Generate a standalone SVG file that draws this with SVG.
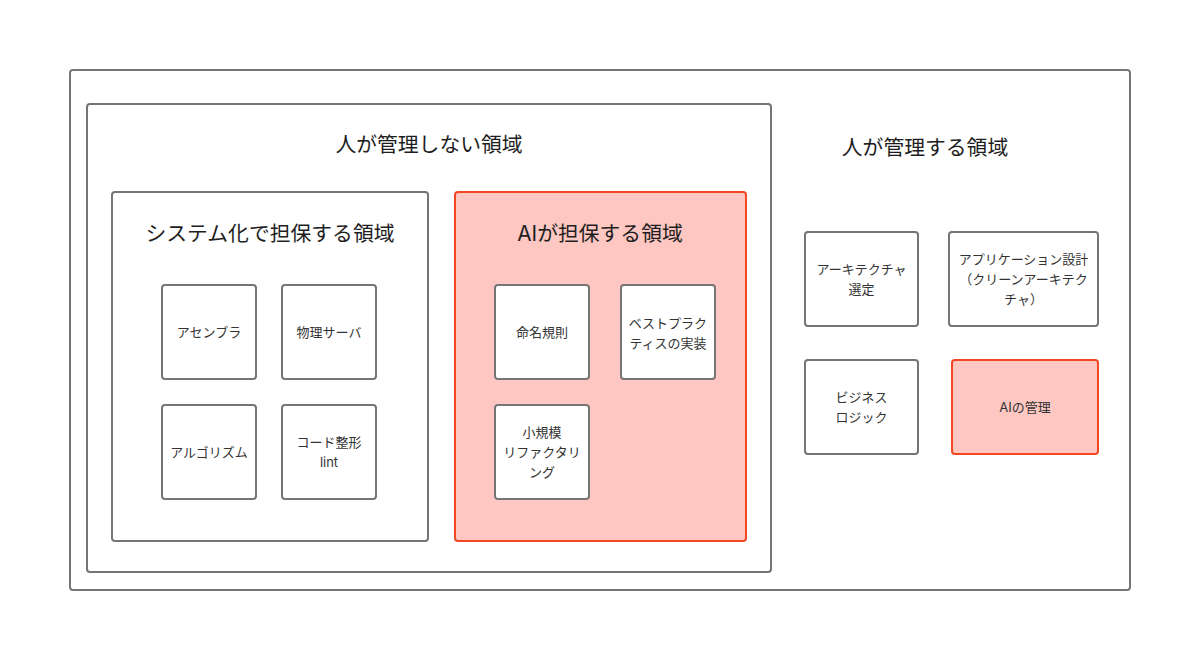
<svg xmlns="http://www.w3.org/2000/svg" width="1200" height="661" viewBox="0 0 1200 661">
<style>
.box{fill:#ffffff;stroke:#757575;stroke-width:2}
.red{fill:#ffc7c2;stroke:#f24822;stroke-width:2}
text{font-family:"Inter","Noto Sans CJK JP",sans-serif;fill:#1e1e1e;text-anchor:middle}
.t{font-size:20.8px}
.n{font-size:13px;fill:#333}
</style>
<rect width="1200" height="661" fill="#ffffff"/>
<g id="outer"><rect class="box" x="70" y="70" width="1060" height="520" rx="3"/></g>
<g id="unmanaged">
<rect class="box" x="87" y="104" width="684" height="468" rx="3"/>
<text class="t" x="429" y="152">人が管理しない領域</text>
</g>
<g id="managed-title"><text class="t" x="925" y="155">人が管理する領域</text></g>
<g id="system">
<rect class="box" x="112" y="192" width="316" height="349" rx="3"/>
<text class="t" x="270" y="241">システム化で担保する領域</text>
</g>
<g id="ai">
<rect class="red" x="455" y="192" width="291" height="349" rx="3"/>
<text class="t" x="600" y="241">AIが担保する領域</text>
</g>
<g id="assembler"><rect class="box" x="162" y="285" width="94" height="94" rx="3"/><text class="n" x="209" y="337">アセンブラ</text></g>
<g id="server"><rect class="box" x="282" y="285" width="94" height="94" rx="3"/><text class="n" x="329" y="337">物理サーバ</text></g>
<g id="algorithm"><rect class="box" x="162" y="405" width="94" height="94" rx="3"/><text class="n" x="209" y="457">アルゴリズム</text></g>
<g id="format"><rect class="box" x="282" y="405" width="94" height="94" rx="3"/><text class="n" x="329" y="447">コード整形</text><text class="n" x="329" y="467">lint</text></g>
<g id="naming"><rect class="box" x="495" y="285" width="94" height="94" rx="3"/><text class="n" x="542" y="337">命名規則</text></g>
<g id="bestpractice"><rect class="box" x="621" y="285" width="94" height="94" rx="3"/><text class="n" x="668" y="328">ベストプラク</text><text class="n" x="668" y="348">ティスの実装</text></g>
<g id="refactor"><rect class="box" x="495" y="405" width="94" height="94" rx="3"/><text class="n" x="542" y="437">小規模</text><text class="n" x="542" y="457">リファクタリ</text><text class="n" x="542" y="477">ング</text></g>
<g id="arch"><rect class="box" x="805" y="232" width="113" height="94" rx="3"/><text class="n" x="861.5" y="274">アーキテクチャ</text><text class="n" x="861.5" y="294">選定</text></g>
<g id="appdesign"><rect class="box" x="949" y="232" width="149" height="94" rx="3"/><text class="n" x="1023.5" y="264">アプリケーション設計</text><text class="n" x="1023.5" y="284">（クリーンアーキテク</text><text class="n" x="1023.5" y="304">チャ）</text></g>
<g id="business"><rect class="box" x="805" y="360" width="113" height="94" rx="3"/><text class="n" x="861.5" y="402">ビジネス</text><text class="n" x="861.5" y="422">ロジック</text></g>
<g id="aimanage"><rect class="red" x="952" y="360" width="146" height="94" rx="3"/><text class="n" x="1025" y="412">AIの管理</text></g>
<g id="connectors"></g>
</svg>
